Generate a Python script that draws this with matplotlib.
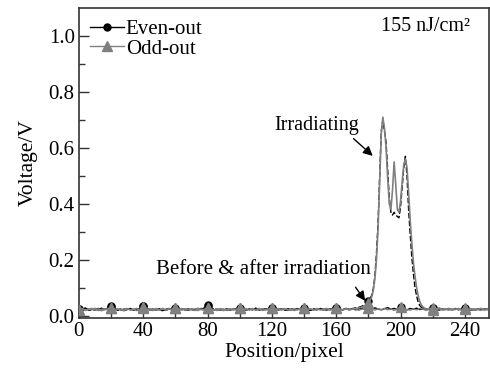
import matplotlib
matplotlib.use("Agg")
import matplotlib.pyplot as plt
import numpy as np

plt.rcParams['font.family'] = ['Liberation Serif', 'DejaVu Serif']

# ---------------- data ----------------
base_x = list(range(0, 256, 2))
even_base = [
    0.025,0.022,0.028,0.020,0.024,0.019,0.026,0.021,0.023,0.027,
    0.034,0.026,0.020,0.024,0.018,0.022,0.025,0.020,0.023,0.026,
    0.036,0.027,0.021,0.019,0.024,0.022,0.018,0.023,0.026,0.021,
    0.024,0.020,0.025,0.022,0.019,0.024,0.021,0.026,0.023,0.028,
    0.038,0.030,0.022,0.019,0.024,0.021,0.025,0.020,0.023,0.022,
    0.026,0.021,0.019,0.024,0.022,0.027,0.020,0.023,0.025,0.021,
    0.027,0.023,0.020,0.025,0.021,0.019,0.024,0.022,0.026,0.020,
    0.025,0.022,0.019,0.024,0.021,0.026,0.023,0.020,0.024,0.022,
    0.028,0.023,0.020,0.025,0.022,0.026,0.021,0.024,0.027,0.023,
    0.026,0.022,0.028,0.024,0.021,0.025,0.029,0.023,0.026,0.022,
    0.030,0.024,0.021,0.026,0.023,0.027,0.022,0.025,0.021,0.024,
    0.028,0.023,0.020,0.024,0.022,0.026,0.021,0.023,0.025,0.022,
    0.026,0.022,0.024,0.020,0.023,0.025,0.021,0.024]
odd_base = [
    0.022,0.026,0.019,0.024,0.021,0.027,0.018,0.023,0.025,0.020,
    0.028,0.021,0.025,0.019,0.023,0.026,0.020,0.024,0.018,0.022,
    0.030,0.024,0.019,0.023,0.026,0.020,0.024,0.021,0.025,0.019,
    0.027,0.022,0.026,0.019,0.023,0.021,0.025,0.018,0.024,0.022,
    0.029,0.023,0.020,0.025,0.022,0.018,0.024,0.021,0.026,0.020,
    0.028,0.024,0.020,0.023,0.026,0.019,0.022,0.025,0.020,0.024,
    0.029,0.022,0.026,0.020,0.024,0.021,0.019,0.025,0.022,0.023,
    0.028,0.021,0.024,0.019,0.026,0.022,0.020,0.025,0.023,0.021,
    0.029,0.024,0.021,0.026,0.020,0.023,0.025,0.019,0.024,0.022,
    0.027,0.023,0.020,0.025,0.022,0.026,0.021,0.024,0.019,0.023,
    0.030,0.025,0.022,0.020,0.024,0.021,0.026,0.023,0.019,0.024,
    0.029,0.022,0.025,0.020,0.023,0.026,0.021,0.024,0.022,0.020,
    0.028,0.023,0.021,0.025,0.022,0.019,0.024,0.021]

irr_x = list(range(0, 179, 2)) + list(range(179, 216)) + list(range(216, 256, 2))
even_irr = [
    0.024,0.020,0.026,0.022,0.019,0.025,0.021,0.027,0.022,0.024,
    0.032,0.025,0.021,0.019,0.024,0.022,0.026,0.020,0.023,0.021,
    0.034,0.026,0.022,0.024,0.020,0.025,0.021,0.019,0.024,0.022,
    0.026,0.021,0.024,0.020,0.025,0.022,0.019,0.023,0.026,0.024,
    0.036,0.028,0.021,0.025,0.020,0.023,0.019,0.024,0.022,0.026,
    0.025,0.022,0.020,0.024,0.021,0.026,0.023,0.019,0.024,0.022,
    0.026,0.021,0.024,0.022,0.020,0.025,0.023,0.021,0.024,0.022,
    0.026,0.023,0.020,0.024,0.022,0.025,0.021,0.024,0.022,0.025,
    0.027,0.024,0.022,0.026,0.023,0.025,0.028,0.030,0.034,0.040,
    0.045,0.052,0.060,0.072,0.095,0.14,0.22,0.33,0.50,0.66,
    0.70,0.66,0.62,0.52,0.42,0.37,0.36,0.37,0.36,0.355,
    0.35,0.39,0.46,0.53,0.57,0.50,0.38,0.29,0.21,0.15,
    0.10,0.07,0.048,0.036,0.030,0.027,0.025,
    0.024,0.022,0.026,0.021,0.025,0.023,0.020,0.024,0.022,0.026,
    0.021,0.023,0.025,0.022,0.020,0.024,0.023,0.021,0.025,0.022]
odd_irr = [
    0.021,0.025,0.019,0.023,0.026,0.020,0.024,0.018,0.022,0.025,
    0.027,0.020,0.024,0.022,0.019,0.025,0.021,0.023,0.026,0.020,
    0.029,0.022,0.025,0.019,0.023,0.021,0.026,0.020,0.024,0.022,
    0.028,0.023,0.020,0.025,0.021,0.024,0.019,0.026,0.022,0.020,
    0.028,0.024,0.021,0.019,0.025,0.022,0.020,0.024,0.021,0.023,
    0.029,0.022,0.025,0.020,0.024,0.021,0.026,0.019,0.023,0.021,
    0.028,0.024,0.020,0.023,0.025,0.021,0.024,0.019,0.022,0.025,
    0.027,0.022,0.025,0.020,0.024,0.021,0.023,0.026,0.020,0.024,
    0.029,0.023,0.021,0.025,0.022,0.024,0.026,0.028,0.031,0.036,
    0.040,0.046,0.055,0.066,0.088,0.13,0.20,0.31,0.48,0.65,
    0.71,0.67,0.60,0.49,0.40,0.38,0.45,0.55,0.47,0.38,
    0.37,0.41,0.48,0.54,0.56,0.53,0.44,0.34,0.26,0.19,
    0.14,0.10,0.07,0.05,0.038,0.031,0.027,
    0.023,0.026,0.021,0.024,0.028,0.022,0.025,0.020,0.024,0.022,
    0.026,0.021,0.024,0.022,0.025,0.020,0.023,0.026,0.021,0.024]

x_ticks = [0, 40, 80, 120, 160, 200, 240]
y_ticks = [0.0, 0.2, 0.4, 0.6, 0.8, 1.0]

# ---------------- plot ----------------
fig = plt.figure(figsize=(4.9, 3.71), dpi=100)
ax = fig.add_axes([0.161, 0.143, 0.837, 0.835])

def marks(xs, ys):
    # symbols every 20 pixels, only where the trace sits on the baseline
    return [i for i, v in enumerate(xs) if v % 20 == 0 and ys[i] < 0.1]

gray = '#808080'
ax.plot(base_x, even_base, color='black', lw=1.0, marker='o', ms=5,
        markevery=marks(base_x, even_base), zorder=3)
ax.plot(base_x, odd_base, color=gray, lw=1.0, marker='^', ms=7,
        markevery=marks(base_x, odd_base), zorder=4)
ax.plot(irr_x, odd_irr, color=gray, lw=1.2, marker='^', ms=7,
        markevery=marks(irr_x, odd_irr), zorder=4)
ax.plot(irr_x, even_irr, color='black', lw=1.0, marker='o', ms=5,
        markevery=marks(irr_x, even_irr), zorder=3, dashes=[4, 1.5])

# legend proxies
h1, = ax.plot([], [], color='black', lw=1.0, marker='o', ms=5, label='Even-out')
h2, = ax.plot([], [], color=gray, lw=1.0, marker='^', ms=7, label='Odd-out')
ax.legend(handles=[h1, h2], loc='upper left', bbox_to_anchor=(0.0, 1.0),
          frameon=False, fontsize=15, handlelength=1.6, handletextpad=0.1,
          labelspacing=0.0, borderpad=0.3, borderaxespad=0.25)

ax.set_xlim(0, 255)
ax.set_ylim(-0.008, 1.10)
ax.set_xticks(x_ticks)
ax.set_yticks(y_ticks)
ax.set_yticklabels([f'{v:.1f}' for v in y_ticks])
ax.set_xticks(range(20, 256, 40), minor=True)
ax.set_yticks([0.1, 0.3, 0.5, 0.7, 0.9], minor=True)
ax.tick_params(which='both', direction='in', labelsize=15, color='#333333',
               top=False, right=False)
ax.tick_params(which='major', length=7, width=1.0, pad=3)
ax.tick_params(which='minor', length=4, width=1.0)
for s in ax.spines.values():
    s.set_linewidth(1.2)
    s.set_color('#333333')

ax.set_xlabel('Position/pixel', fontsize=15.5, labelpad=1)
ax.set_ylabel('Voltage/V', fontsize=15.5, labelpad=8)

ax.text(243, 1.035, '155 nJ/cm²', fontsize=14.5, ha='right', va='center')
ax.text(148, 0.68, 'Irradiating', fontsize=14.5, ha='center', va='center')
ax.annotate('', xy=(184, 0.565), xytext=(169.5, 0.64),
            arrowprops=dict(arrowstyle='-|>', color='black', lw=1.0,
                            mutation_scale=14))
ax.text(115, 0.165, 'Before & after irradiation', fontsize=15,
        ha='center', va='center')
ax.annotate('', xy=(179, 0.045), xytext=(171, 0.11),
            arrowprops=dict(arrowstyle='-|>', color='black', lw=1.0,
                            mutation_scale=14))

fig.savefig('out.png', dpi=100)
